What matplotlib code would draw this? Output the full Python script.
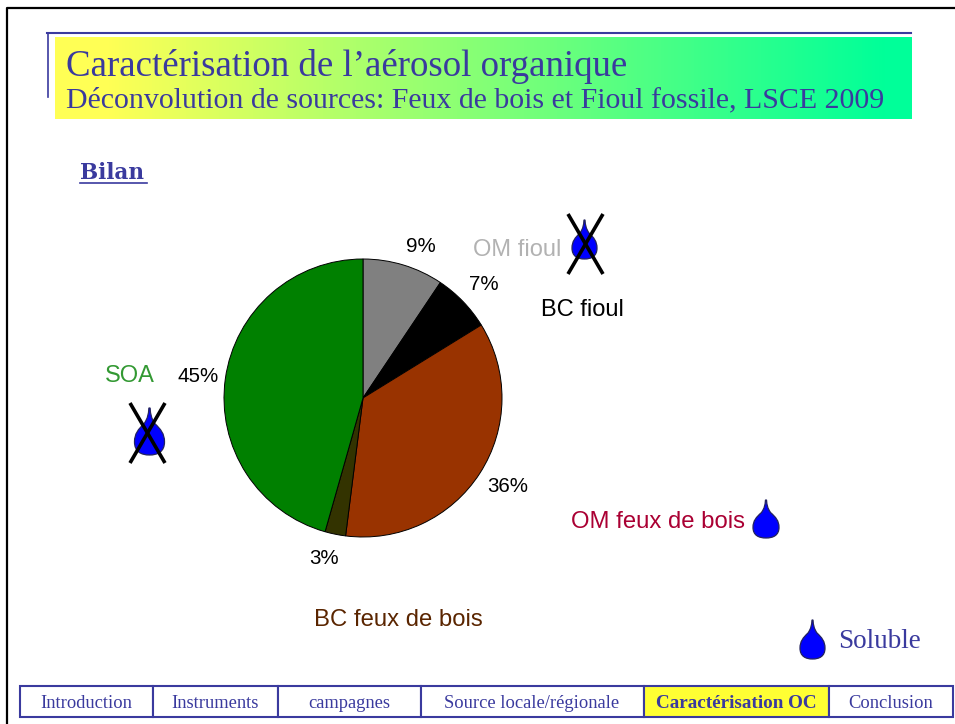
import matplotlib
matplotlib.use('Agg')
import matplotlib.pyplot as plt
import numpy as np
from matplotlib.patches import PathPatch, Rectangle
from matplotlib.path import Path
from matplotlib.colors import LinearSegmentedColormap

W, H = 955, 724
BLUE = '#3a3a9e'

# pie slices, clockwise from the top
slice_values = [9.4, 6.8, 35.8, 2.4, 45.6]
slice_labels = ['9%', '7%', '36%', '3%', '45%']
slice_colors = ['#808080', '#000000', '#993300', '#333300', '#008000']
value_pos = [(421, 245), (484, 283), (508, 486), (324, 558), (198, 376)]

nav_labels = ['Introduction', 'Instruments', 'campagnes', 'Source locale/régionale', 'Caractérisation OC', 'Conclusion']
nav_edges = [20, 153, 278, 421, 644, 829, 953]
nav_active = 4


def drop(ax, cx, top, bottom, halfw):
    h = bottom - top
    verts = [(cx - 0.04 * halfw, top), (cx - 0.08 * halfw, top + 0.15 * h), (cx - 0.1 * halfw, top + 0.2 * h), (cx - 0.35 * halfw, top + 0.33 * h),
             (cx - 0.75 * halfw, top + 0.45 * h), (cx - halfw, top + 0.55 * h), (cx - halfw, top + 0.72 * h),
             (cx - halfw, top + 0.93 * h), (cx - 0.55 * halfw, bottom), (cx, bottom),
             (cx + 0.55 * halfw, bottom), (cx + halfw, top + 0.93 * h), (cx + halfw, top + 0.72 * h),
             (cx + halfw, top + 0.55 * h), (cx + 0.75 * halfw, top + 0.45 * h), (cx + 0.35 * halfw, top + 0.33 * h),
             (cx + 0.1 * halfw, top + 0.2 * h), (cx + 0.08 * halfw, top + 0.15 * h), (cx + 0.04 * halfw, top),
             (cx - 0.04 * halfw, top)]
    codes = [Path.MOVETO] + [Path.CURVE4] * 18 + [Path.CLOSEPOLY]
    ax.add_patch(PathPatch(Path(verts, codes), facecolor='#0000ff', edgecolor='#23235f', lw=0.9, zorder=3))


def cross(ax, x0, y0, x1, y1):
    ax.plot([x0, x1], [y0, y1], color='black', lw=2.6, zorder=4, solid_capstyle='butt')
    ax.plot([x0, x1], [y1, y0], color='black', lw=2.6, zorder=4, solid_capstyle='butt')


fig = plt.figure(figsize=(W / 100, H / 100), dpi=100, facecolor='white')

# page overlay, in pixels
page = fig.add_axes([0, 0, 1, 1])
page.set_xlim(0, W)
page.set_ylim(H, 0)
page.axis('off')

# slide frame
page.plot([7, 7, W], [H, 8, 8], color='black', lw=1.6)

# title banner
page.plot([47.5, 47.5], [97, 33], color=BLUE, lw=1.2)
page.plot([47, 911], [33, 33], color=BLUE, lw=1.5)
cmap = LinearSegmentedColormap.from_list('banner', [(0, '#ffff55'), (0.06, '#ffff55'), (0.97, '#00ff99'), (1, '#00ff99')])
page.imshow(np.linspace(0, 1, 256).reshape(1, -1), cmap=cmap, extent=(55, 911, 119, 37), aspect='auto', zorder=2)
page.set_xlim(0, W)
page.set_ylim(H, 0)

serif = 'Liberation Serif'
page.text(66, 66, 'Caractérisation de l’aérosol organique', family=serif, fontsize=26.6, color=BLUE, va='center', zorder=3)
page.text(66, 100, 'Déconvolution de sources: Feux de bois et Fioul fossile, LSCE 2009', family=serif, fontsize=21.5, color=BLUE, va='center', zorder=3)
page.text(80, 173, 'Bilan', family='DejaVu Serif', fontsize=15.5, weight='bold', color=BLUE, va='center')
page.plot([80, 147], [183, 183], color=BLUE, lw=1.2)

# pie
pie_ax = fig.add_axes([(363 - 140) / W, 1 - (398 + 140) / H, 280 / W, 280 / H])
pie_ax.pie(slice_values, colors=slice_colors, startangle=90, counterclock=False, radius=1,
           wedgeprops={'edgecolor': 'black', 'linewidth': 0.7})
pie_ax.set_xlim(-1.0072, 1.0072)
pie_ax.set_ylim(-1.0072, 1.0072)

# pie values and source names
sans = 'Liberation Sans'
for label, (x, y) in zip(slice_labels, value_pos):
    page.text(x, y + 1, label, family=sans, fontsize=14.8, color='black', ha='center', va='center')
page.text(473, 250, 'OM fioul', family=sans, fontsize=17, color='#b2b2b2', va='center')
page.text(541, 310, 'BC fioul', family=sans, fontsize=17, color='black', va='center')
page.text(105, 376, 'SOA', family=sans, fontsize=17, color='#339933', va='center')
page.text(571, 522, 'OM feux de bois', family=sans, fontsize=17.2, color='#aa0033', va='center')
page.text(314, 620, 'BC feux de bois', family=sans, fontsize=17.2, color='#5a2500', va='center')
page.text(838, 641, 'Soluble', family=serif, fontsize=19.5, color=BLUE, va='center')

# drops
drop(page, 584.5, 220, 259, 12.5)
cross(page, 568, 214, 603, 274)
drop(page, 149.5, 408, 455, 15)
cross(page, 130, 403, 165, 463)
drop(page, 766, 500, 538, 13)
drop(page, 812.5, 620, 659, 12.5)

# navigation bar
top, bottom = 686, 717
for i, label in enumerate(nav_labels):
    x0, x1 = nav_edges[i], nav_edges[i + 1]
    active = i == nav_active
    page.add_patch(Rectangle((x0, top), x1 - x0, bottom - top, facecolor='#ffff33' if active else 'white',
                             edgecolor=BLUE, lw=1.5))
    page.text((x0 + x1) / 2 - 0.5, (top + bottom) / 2 + 2, label, family=serif, fontsize=13.8 if active else 13.3,
              weight='bold' if active else 'normal', color=BLUE, ha='center', va='center')

fig.savefig('out.png', dpi=100, facecolor='white')
